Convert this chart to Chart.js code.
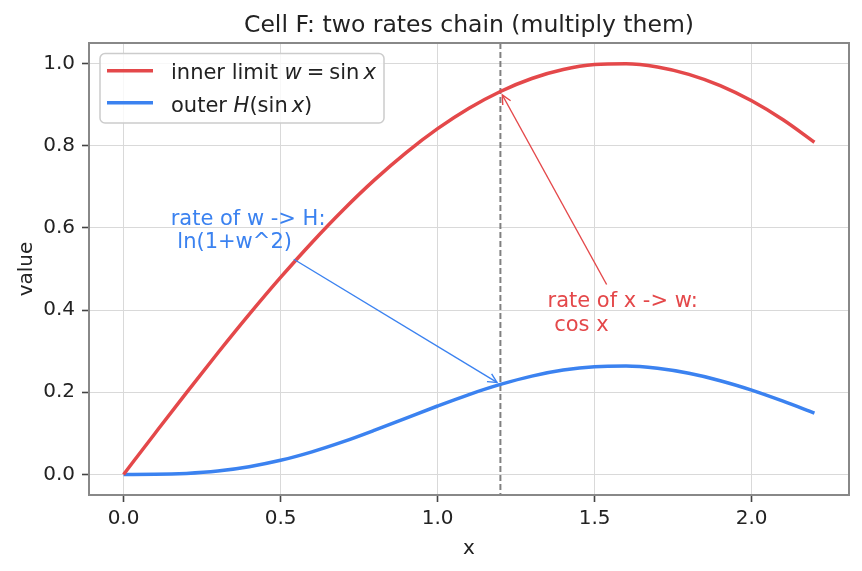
<!DOCTYPE html>
<html>
<head>
<meta charset="utf-8">
<script src="https://cdn.jsdelivr.net/npm/chart.js@4"></script>
<style>
  html, body { margin: 0; padding: 0; background: #fff; }
  #chart { display: block; }
</style>
</head>
<body>
<canvas id="chart" width="862" height="571"></canvas>
<script>
// values
const xs = [0.0, 0.1, 0.2, 0.3, 0.4, 0.5, 0.6, 0.7, 0.8, 0.9, 1.0, 1.1,
            1.2, 1.3, 1.4, 1.5, 1.6, 1.7, 1.8, 1.9, 2.0, 2.1, 2.2];
const innerW = [0, 0.0998, 0.1987, 0.2955, 0.3894, 0.4794, 0.5646, 0.6442, 0.7174, 0.7833, 0.8415, 0.8912,
                0.9320, 0.9636, 0.9854, 0.9975, 0.9996, 0.9917, 0.9738, 0.9463, 0.9093, 0.8632, 0.8085];
const outerH = [0, 0.0003, 0.0026, 0.0084, 0.0189, 0.0344, 0.0550, 0.0797, 0.1077, 0.1372, 0.1666, 0.1945,
                0.2191, 0.2394, 0.2540, 0.2622, 0.2637, 0.2582, 0.2461, 0.2282, 0.2053, 0.1784, 0.1495];
const xTicks = [0.0, 0.5, 1.0, 1.5, 2.0];
const yTicks = [0.0, 0.2, 0.4, 0.6, 0.8, 1.0];
const markX = 1.2;

const RED = "#e4484a";
const BLUE = "#3b82f0";
const FONT = "'DejaVu Sans', sans-serif";

// annotations: text block (left x, baseline of last line) and the point the arrow hits
const notes = [
  { lines: ["rate of x -> w:", " cos x"], x: 1.35, y: 0.35, tx: 1.2, ty: 0.932, color: RED },
  { lines: ["rate of w -> H:", " ln(1+w^2)"], x: 0.15, y: 0.55, tx: 1.2, ty: 0.219, color: BLUE }
];

const toPts = (a, b) => a.map((v, i) => ({ x: v, y: b[i] }));

// draws a run of pieces, some in italic (poor man's mathtext)
function drawRuns(ctx, runs, x, y) {
  runs.forEach(r => {
    if (r.gap) { x += r.gap; return; }
    ctx.font = (r.it ? "italic " : "") + "21px " + FONT;
    ctx.fillText(r.t, x, y);
    x += ctx.measureText(r.t).width;
  });
}

function arrow(ctx, x0, y0, x1, y1, color) {
  const ang = Math.atan2(y1 - y0, x1 - x0);
  ctx.save();
  ctx.strokeStyle = color;
  ctx.lineWidth = 1.4;
  ctx.beginPath();
  ctx.moveTo(x0, y0);
  ctx.lineTo(x1, y1);
  ctx.stroke();
  const hl = 9, hw = 4.5;
  ctx.beginPath();
  ctx.moveTo(x1 - hl * Math.cos(ang) + hw * Math.sin(ang), y1 - hl * Math.sin(ang) - hw * Math.cos(ang));
  ctx.lineTo(x1, y1);
  ctx.lineTo(x1 - hl * Math.cos(ang) - hw * Math.sin(ang), y1 - hl * Math.sin(ang) + hw * Math.cos(ang));
  ctx.stroke();
  ctx.restore();
}

const extras = {
  id: "extras",
  beforeDatasetsDraw(chart) {
    const { ctx, chartArea: a, scales: { x } } = chart;
    const px = x.getPixelForValue(markX);
    ctx.save();
    ctx.strokeStyle = "#808080";
    ctx.lineWidth = 2;
    ctx.setLineDash([6, 3]);
    ctx.beginPath();
    ctx.moveTo(px, a.top);
    ctx.lineTo(px, a.bottom);
    ctx.stroke();
    ctx.restore();
  },
  afterDatasetsDraw(chart) {
    const { ctx, chartArea: a, scales: { x, y } } = chart;
    ctx.save();

    // frame
    ctx.strokeStyle = "#888";
    ctx.lineWidth = 2;
    ctx.strokeRect(a.left, a.top, a.right - a.left, a.bottom - a.top);

    // annotations
    ctx.textBaseline = "alphabetic";
    ctx.textAlign = "left";
    notes.forEach(n => {
      ctx.font = "21px " + FONT;
      ctx.fillStyle = n.color;
      const left = x.getPixelForValue(n.x);
      const lastBase = y.getPixelForValue(n.y);
      const gap = 23.4;
      const firstBase = lastBase - gap * (n.lines.length - 1);
      let w = 0;
      n.lines.forEach((l, i) => {
        ctx.fillText(l, left, firstBase + gap * i);
        w = Math.max(w, ctx.measureText(l).width);
      });
      // arrow leaves the padded text box, like matplotlib does
      const pad = 4;
      const bx0 = left - pad, bx1 = left + w + pad;
      const by0 = firstBase - 15.2 - pad, by1 = lastBase + 4.7 + pad;
      const cx = (bx0 + bx1) / 2, cy = (by0 + by1) / 2;
      const ex = x.getPixelForValue(n.tx), ey = y.getPixelForValue(n.ty);
      const dx = ex - cx, dy = ey - cy;
      let t = 1;
      if (dx !== 0) t = Math.min(t, ((dx > 0 ? bx1 : bx0) - cx) / dx);
      if (dy !== 0) t = Math.min(t, ((dy > 0 ? by1 : by0) - cy) / dy);
      const len = Math.hypot(dx, dy);
      const ux = dx / len, uy = dy / len;
      const sx = cx + dx * t + ux * 4, sy = cy + dy * t + uy * 4;
      arrow(ctx, sx, sy, ex - ux * 4, ey - uy * 4, n.color);
    });

    // legend
    ctx.fillStyle = "rgba(255,255,255,0.8)";
    ctx.strokeStyle = "#cccccc";
    ctx.lineWidth = 1.5;
    ctx.beginPath();
    ctx.roundRect(100, 53.5, 284, 69.5, 5);
    ctx.fill();
    ctx.stroke();
    [[RED, 70.7], [BLUE, 102.7]].forEach(([c, ly]) => {
      ctx.strokeStyle = c;
      ctx.lineWidth = 3.5;
      ctx.beginPath();
      ctx.moveTo(107, ly);
      ctx.lineTo(153, ly);
      ctx.stroke();
    });
    ctx.fillStyle = "#222";
    drawRuns(ctx, [{ t: "inner limit " }, { t: "w", it: true }, { gap: 5 }, { t: "=" }, { gap: 5 },
                   { t: "sin" }, { gap: 4 }, { t: "x", it: true }], 171, 79.3);
    drawRuns(ctx, [{ t: "outer " }, { t: "H", it: true }, { t: "(" }, { t: "sin" }, { gap: 4 },
                   { t: "x", it: true }, { t: ")" }], 171, 111.7);

    // title and axis labels
    ctx.fillStyle = "#222";
    ctx.textAlign = "center";
    ctx.font = "23.5px " + FONT;
    ctx.fillText("Cell F: two rates chain (multiply them)", (a.left + a.right) / 2, 31.5);
    ctx.font = "20px " + FONT;
    ctx.fillText("x", (a.left + a.right) / 2, 554);
    ctx.translate(32, (a.top + a.bottom) / 2);
    ctx.rotate(-Math.PI / 2);
    ctx.fillText("value", 0, 0);
    ctx.restore();
  }
};

new Chart(document.getElementById("chart").getContext("2d"), {
  type: "line",
  data: {
    datasets: [
      { label: "inner limit w = sin x", data: toPts(xs, innerW), borderColor: RED, borderWidth: 3.5,
        pointRadius: 0, fill: false, cubicInterpolationMode: "monotone" },
      { label: "outer H(sin x)", data: toPts(xs, outerH), borderColor: BLUE, borderWidth: 3.5,
        pointRadius: 0, fill: false, cubicInterpolationMode: "monotone" }
    ]
  },
  options: {
    responsive: false,
    animation: false,
    devicePixelRatio: 1,
    layout: { padding: { top: 43, right: 13, left: 0, bottom: 0 } },
    plugins: { legend: { display: false }, title: { display: false }, tooltip: { enabled: false } },
    scales: {
      x: {
        type: "linear", min: -0.11, max: 2.31,
        afterFit: s => { s.height = 76; },
        afterBuildTicks: s => { s.ticks = xTicks.map(v => ({ value: v })); },
        ticks: { callback: v => v.toFixed(1), font: { family: FONT, size: 20 }, color: "#222", padding: 5, maxRotation: 0 },
        grid: { color: "#d9d9d9", lineWidth: 1, tickColor: "#444", tickWidth: 1.6, tickLength: 7 },
        border: { display: false }
      },
      y: {
        type: "linear", min: -0.05, max: 1.05,
        afterFit: s => { s.width = 89; },
        afterBuildTicks: s => { s.ticks = yTicks.map(v => ({ value: v })); },
        ticks: { callback: v => v.toFixed(1), font: { family: FONT, size: 20 }, color: "#222", padding: 7 },
        grid: { color: "#d9d9d9", lineWidth: 1, tickColor: "#444", tickWidth: 1.6, tickLength: 7 },
        border: { display: false }
      }
    }
  },
  plugins: [extras]
});
</script>
</body>
</html>
